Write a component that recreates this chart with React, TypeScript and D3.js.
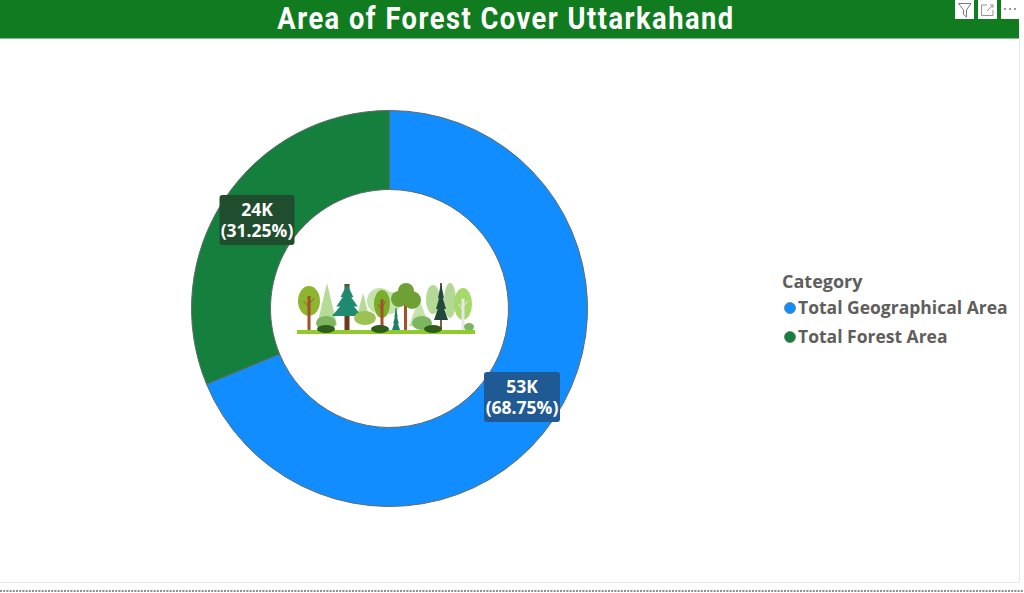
import React from "react";
import * as d3 from "d3";

const categories = ["Total Geographical Area", "Total Forest Area"];
const values = [53483, 24305];
const valueLabels = ["53K", "24K"];
const percentLabels = ["(68.75%)", "(31.25%)"];
const colors = ["#118DFF", "#15803D"];
const labelBoxes = ["#1F5A94", "#1F4D2E"];

// little forest in the middle of the ring
const paleCrowns = [
  { x: 380, rx: 13, top: 288, bottom: 314, c: "#C4E2AC" },
  { x: 391, rx: 9, top: 292, bottom: 314, c: "#C4E2AC" },
  { x: 433, rx: 7, top: 285, bottom: 314, c: "#B3D995" },
  { x: 450, rx: 6, top: 283, bottom: 318, c: "#B3D995" },
];
const palePines = [
  { x: 327, w: 10, top: 283, bottom: 325, c: "#B5DB97" },
  { x: 363, w: 6, top: 293, bottom: 316, c: "#B5DB97" },
  { x: 419, w: 10, top: 298, bottom: 326, c: "#C4E2AC" },
];
const pines = [
  { x: 347, w: 15, top: 284, bottom: 316, c: "#1F8A70", trunk: "#6B3A1E", tw: 5 },
  { x: 396, w: 4, top: 308, bottom: 330, c: "#1F7F66", trunk: "#1F7F66", tw: 1 },
  { x: 441, w: 7, top: 283, bottom: 320, c: "#25483C", trunk: "#8B5A3A", tw: 2 },
];
const roundTrees = [
  { x: 309, rx: 11, ry: 15, cy: 301, c: "#8DB62E", trunk: "#A4512B" },
  { x: 382, rx: 8, ry: 14, cy: 304, c: "#78AE2A", trunk: "#A4512B" },
  { x: 463, rx: 9, ry: 16, cy: 304, c: "#A6D86A", trunk: "#E8E8E8" },
];
const oakBlobs = [
  { x: 399, y: 299, r: 8 },
  { x: 406, y: 291, r: 8 },
  { x: 412, y: 300, r: 9 },
];
const bushes = [
  { x: 326, rx: 10, ry: 7, cy: 323, c: "#7DB560" },
  { x: 365, rx: 11, ry: 7, cy: 318, c: "#9CC253" },
  { x: 422, rx: 10, ry: 7, cy: 323, c: "#7DB560" },
  { x: 469, rx: 5, ry: 4, cy: 327, c: "#7DB560" },
];
const darkBushes = [
  { x: 326, rx: 9, ry: 4 },
  { x: 380, rx: 9, ry: 4 },
  { x: 433, rx: 9, ry: 4 },
];

const cx = 389.5;
const cy = 308.5;
const outerR = 198;
const innerR = 119;
const base = 331;

export default function App() {
  const pie = d3.pie<number>().sort(null)(values);
  const arc = d3.arc<d3.PieArcDatum<number>>().innerRadius(innerR).outerRadius(outerR);
  const labelPos = [
    { x: 522, y: 397 },
    { x: 257, y: 220 },
  ];
  const boxW = [76, 75];
  return (
    <svg width={1024} height={593} style={{ position: "absolute", left: 0, top: 0 }} fontFamily="'Open Sans', sans-serif">
      <rect width={1024} height={593} fill="#fff" />
      <rect x={0} y={0} width={1019} height={38.5} fill="#107C1F" />
      <text
        transform="translate(506,29) scale(0.88,1)"
        textAnchor="middle"
        fontFamily="Roboto, sans-serif"
        fontWeight={700}
        fontSize={31}
        letterSpacing={1.7}
        fill="#fff"
      >
        Area of Forest Cover Uttarkahand
      </text>

      {/* visual header icons */}
      <g>
        <rect x={955} y={0} width={19} height={19} fill="#fff" />
        <path d="M958.5 3.5 H971 L966.5 10 V17 L963.5 14.5 V10 Z" fill="none" stroke="#6b6b6b" strokeWidth={0.9} />
        <rect x={978} y={0} width={19} height={19} fill="#fff" />
        <path d="M987 5 H981.5 V15.5 H993 V10" fill="none" stroke="#8a8a8a" strokeWidth={0.9} />
        <path d="M987 11 L993 5 M990 5 H993 V8" fill="none" stroke="#8a8a8a" strokeWidth={0.9} />
        <rect x={1001} y={0} width={19} height={19} fill="#fff" />
        {[1005, 1010, 1015].map((x) => (
          <circle key={x} cx={x} cy={9} r={1} fill="#777" />
        ))}
      </g>
      <line x1={1019.5} y1={38} x2={1019.5} y2={582} stroke="#E6E6E6" />
      <line x1={0} y1={582.5} x2={1019} y2={582.5} stroke="#E6E6E6" />
      <line x1={0} y1={591} x2={1024} y2={591} stroke="#8f8f8f" strokeWidth={2} strokeDasharray="2 1.2" />

      <g transform={`translate(${cx},${cy})`}>
        {pie.map((d, i) => (
          <path key={categories[i]} d={arc(d) ?? ""} fill={colors[i]} stroke="#5F6B66" strokeWidth={1} />
        ))}
      </g>

      {pie.map((d, i) => (
        <g key={valueLabels[i]}>
          <rect x={labelPos[i].x - boxW[i] / 2} y={labelPos[i].y - 25} width={boxW[i]} height={50} rx={3} fill={labelBoxes[i]} />
          <text x={labelPos[i].x} y={labelPos[i].y - 4} textAnchor="middle" fontSize={17.5} fontWeight={700} fill="#fff">
            {valueLabels[i]}
          </text>
          <text x={labelPos[i].x} y={labelPos[i].y + 17} textAnchor="middle" fontSize={17.5} fontWeight={700} fill="#fff">
            {percentLabels[i]}
          </text>
        </g>
      ))}

      {/* forest picture */}
      <g>
        {paleCrowns.map((t, i) => (
          <ellipse key={i} cx={t.x} cy={(t.top + t.bottom) / 2} rx={t.rx} ry={(t.bottom - t.top) / 2} fill={t.c} />
        ))}
        {palePines.map((t, i) => (
          <path key={i} d={`M${t.x} ${t.top} L${t.x + t.w} ${t.bottom} H${t.x - t.w} Z`} fill={t.c} />
        ))}
        {pines.map((t, i) => (
          <g key={i}>
            <rect x={t.x - t.tw / 2} y={t.top} width={t.tw} height={base - t.top} fill={t.trunk} />
            {[0, 1, 2].map((k) => {
              const h = t.bottom - t.top;
              const w = (t.w * (k + 1.5)) / 3.5;
              return (
                <path
                  key={k}
                  d={`M${t.x} ${t.top + (k * h) / 4.5} L${t.x + w} ${t.top + ((k + 1.4) * h) / 3.4} H${t.x - w} Z`}
                  fill={t.c}
                />
              );
            })}
          </g>
        ))}
        {roundTrees.map((t, i) => (
          <g key={i}>
            <ellipse cx={t.x} cy={t.cy} rx={t.rx} ry={t.ry} fill={t.c} />
            <rect x={t.x - 1.5} y={t.cy - t.ry / 3} width={3} height={base - t.cy + t.ry / 3} fill={t.trunk} />
            <path d={`M${t.x} ${t.cy + 6} L${t.x - t.rx / 2} ${t.cy} M${t.x} ${t.cy + 3} L${t.x + t.rx / 2} ${t.cy - 3}`} stroke={t.trunk} strokeWidth={1} />
          </g>
        ))}
        <rect x={404} y={300} width={3} height={base - 300} fill="#A4512B" />
        {oakBlobs.map((b, i) => (
          <circle key={i} cx={b.x} cy={b.y} r={b.r} fill="#6FA036" />
        ))}
        {bushes.map((b, i) => (
          <ellipse key={i} cx={b.x} cy={b.cy} rx={b.rx} ry={b.ry} fill={b.c} />
        ))}
        <rect x={297} y={330} width={178} height={4} fill="#8FCB2E" />
        {darkBushes.map((b, i) => (
          <ellipse key={i} cx={b.x} cy={329} rx={b.rx} ry={b.ry} fill="#2F5D1E" />
        ))}
      </g>

      {/* legend */}
      <text x={782} y={288} fontSize={18} fontWeight={700} fill="#605E5C">
        Category
      </text>
      {categories.map((c, i) => (
        <g key={c}>
          <circle cx={790} cy={308 + i * 29} r={5.5} fill={colors[i]} stroke="#5F6B66" strokeWidth={0.7} />
          <text x={798} y={314 + i * 29} fontSize={17.5} fontWeight={700} fill="#605E5C">
            {c}
          </text>
        </g>
      ))}
    </svg>
  );
}
